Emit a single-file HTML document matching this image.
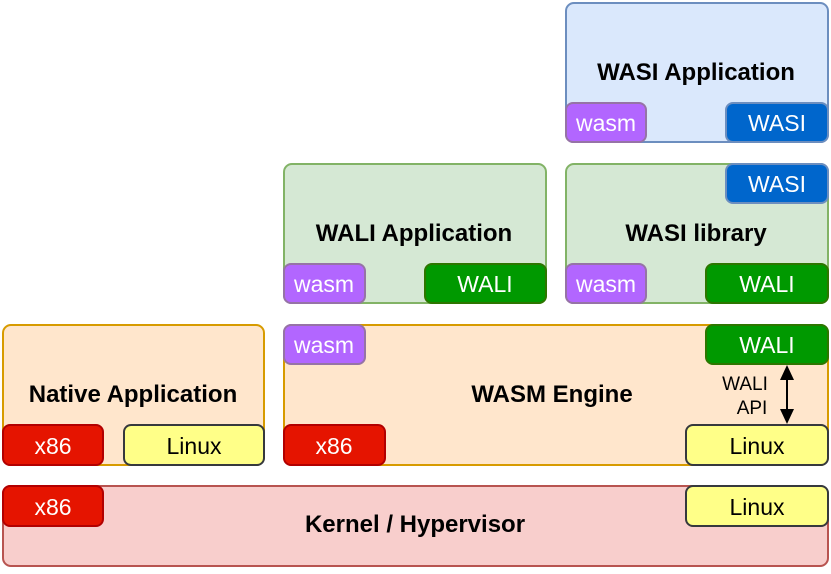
<!DOCTYPE html>
<html><head><meta charset="utf-8"><style>html,body{margin:0;padding:0;background:#fff}svg{display:block}text{font-family:"Liberation Sans",Arial,sans-serif}</style></head>
<body>
<svg width="831" height="574" viewBox="0 0 831 574" xmlns="http://www.w3.org/2000/svg">
<g stroke-width="2">
<rect x="566" y="3" width="262" height="139" rx="8" fill="#dae8fc" stroke="#6c8ebf"/>
<rect x="566" y="103" width="80" height="39" rx="7" fill="#b266ff" stroke="#9673a6"/>
<rect x="726" y="103" width="102" height="39" rx="7" fill="#0066cc" stroke="#6c8ebf"/>
<rect x="284" y="164" width="262" height="139" rx="8" fill="#d5e8d4" stroke="#82b366"/>
<rect x="284" y="264" width="81" height="39" rx="7" fill="#b266ff" stroke="#9673a6"/>
<rect x="425" y="264" width="121" height="39" rx="7" fill="#009900" stroke="#2d7600"/>
<rect x="566" y="164" width="262" height="139" rx="8" fill="#d5e8d4" stroke="#82b366"/>
<rect x="726" y="164" width="102" height="39" rx="7" fill="#0066cc" stroke="#6c8ebf"/>
<rect x="566" y="264" width="80" height="39" rx="7" fill="#b266ff" stroke="#9673a6"/>
<rect x="706" y="264" width="122" height="39" rx="7" fill="#009900" stroke="#2d7600"/>
<rect x="3" y="325" width="261" height="140" rx="8" fill="#ffe6cc" stroke="#d79b00"/>
<rect x="3" y="425" width="100" height="40" rx="7" fill="#e51400" stroke="#b20000"/>
<rect x="124" y="425" width="140" height="40" rx="7" fill="#ffff88" stroke="#36393d"/>
<rect x="284" y="325" width="544" height="140" rx="8" fill="#ffe6cc" stroke="#d79b00"/>
<rect x="284" y="325" width="81" height="39" rx="7" fill="#b266ff" stroke="#9673a6"/>
<rect x="706" y="325" width="122" height="39" rx="7" fill="#009900" stroke="#2d7600"/>
<rect x="284" y="425" width="101" height="40" rx="7" fill="#e51400" stroke="#b20000"/>
<rect x="686" y="425" width="142" height="40" rx="7" fill="#ffff88" stroke="#36393d"/>
<rect x="3" y="486" width="825" height="80" rx="8" fill="#f8cecc" stroke="#b85450"/>
<rect x="3" y="486" width="100" height="40" rx="7" fill="#e51400" stroke="#b20000"/>
<rect x="686" y="486" width="142" height="40" rx="7" fill="#ffff88" stroke="#36393d"/>
</g>
<line x1="787" y1="378" x2="787" y2="412" stroke="#000" stroke-width="2"/>
<path d="M787,365 L780,380 L794,380 Z" fill="#000"/>
<path d="M787,424 L780,409 L794,409 Z" fill="#000"/>
<g font-size="24" text-anchor="middle" font-weight="bold" fill="#000">
<text x="696" y="80">WASI Application</text>
<text x="414" y="241">WALI Application</text>
<text x="696" y="241">WASI library</text>
<text x="133" y="402">Native Application</text>
<text x="552" y="402">WASM Engine</text>
<text x="415" y="532">Kernel / Hypervisor</text>
</g>
<g font-size="23" text-anchor="middle" fill="#fff">
<text x="606" y="131">wasm</text>
<text x="777" y="131">WASI</text>
<text x="324" y="292">wasm</text>
<text x="485" y="292">WALI</text>
<text x="777" y="192">WASI</text>
<text x="606" y="292">wasm</text>
<text x="767" y="292">WALI</text>
<text x="324" y="353">wasm</text>
<text x="767" y="353">WALI</text>
<text x="53" y="454">x86</text>
<text x="334" y="454">x86</text>
<text x="53" y="515">x86</text>
</g>
<g font-size="23" text-anchor="middle" fill="#000">
<text x="194" y="454">Linux</text>
<text x="757" y="454">Linux</text>
<text x="757" y="515">Linux</text>
</g>
<g font-size="19" text-anchor="middle" fill="#000">
<text x="745" y="390">WALI</text>
<text x="752" y="414">API</text>
</g>
</svg>
</body></html>
